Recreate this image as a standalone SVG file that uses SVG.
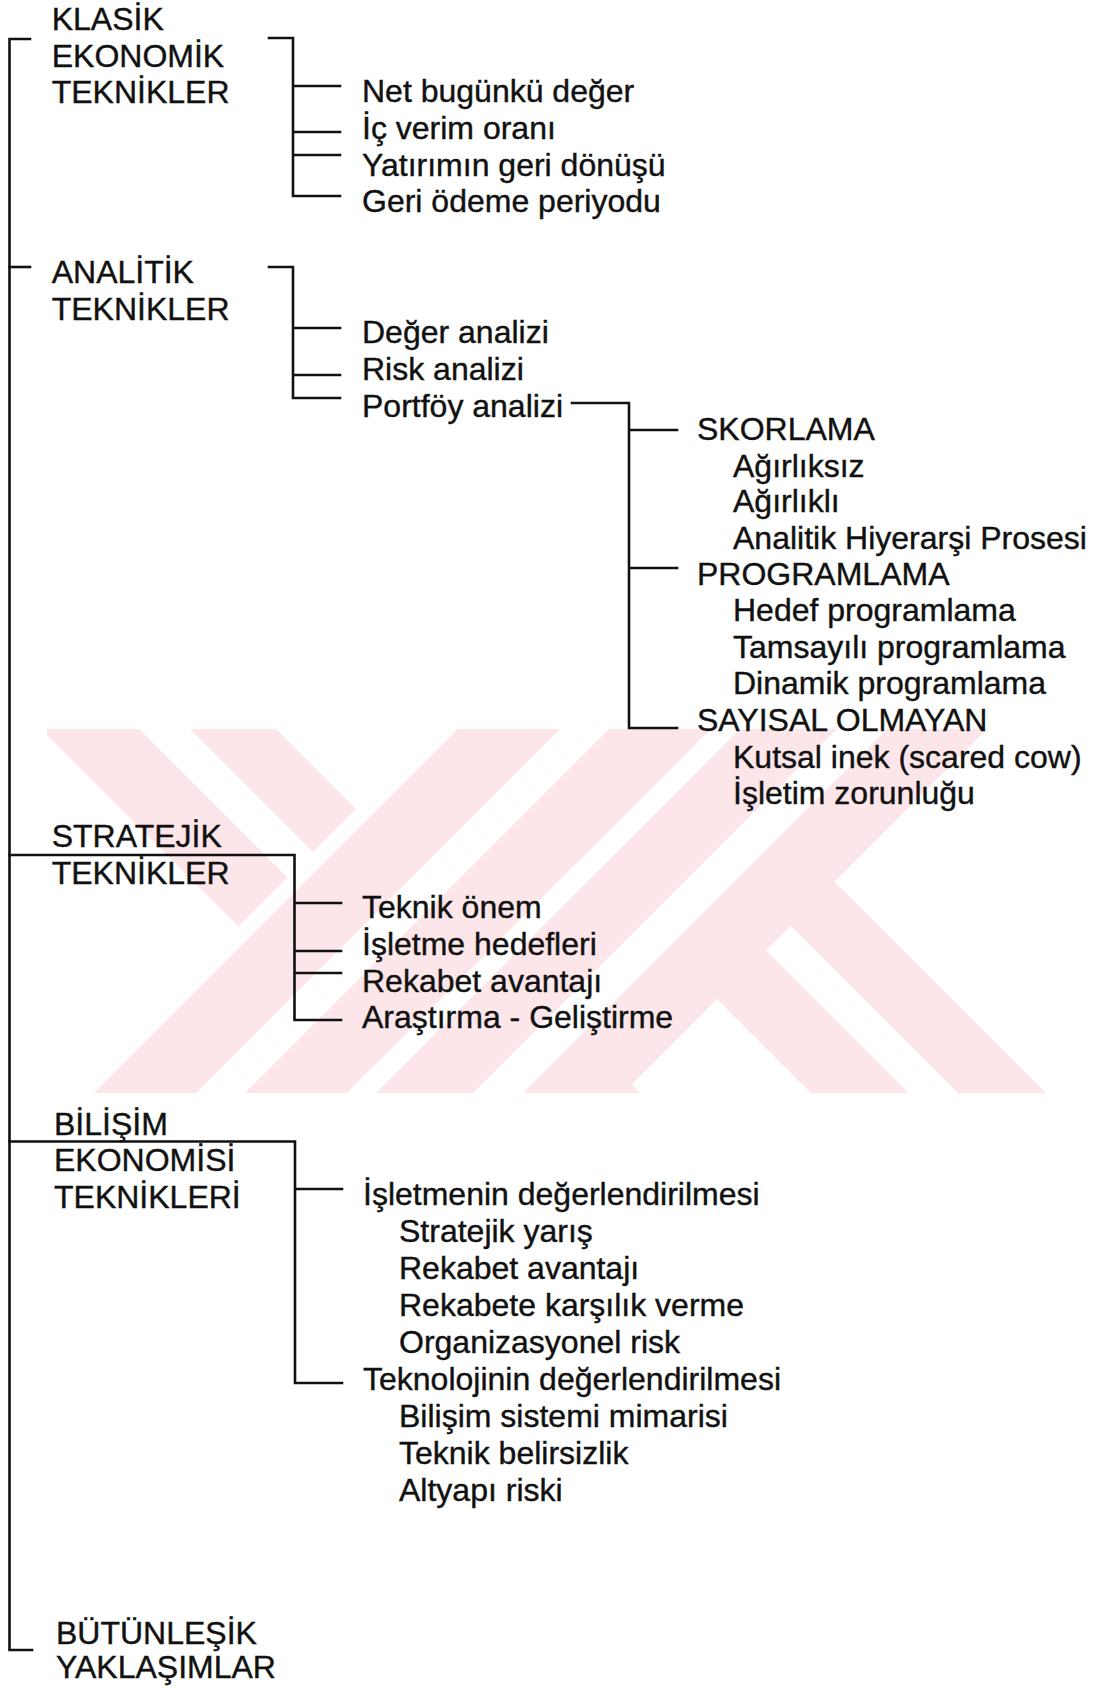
<svg xmlns="http://www.w3.org/2000/svg" width="1098" height="1688" viewBox="0 0 1098 1688">
<defs>
<style>
text{font-family:"Liberation Sans",Arial,sans-serif;font-size:32px;fill:#111;stroke:#111;stroke-width:0.4}
.ln{stroke:#111;stroke-width:2.6;fill:none;stroke-linecap:square}
.wm{fill:#fde6ea}
.wh{fill:#ffffff}
</style>
<clipPath id="wmclip"><rect x="47" y="729" width="1003" height="364"/></clipPath>
</defs>
<rect width="1098" height="1688" fill="#ffffff"/>
<g id="watermark" clip-path="url(#wmclip)">
<polygon class="wm" points="418,700 653,700 1053,1100 818,1100"/>
<polygon class="wh" points="790.5,925.5 965,1100 915.5,1100 765.75,950.25"/>
<polygon class="wm" points="12,700 247,700 647,1100 412,1100"/>
<polygon class="wh" points="110,700 161,700 561,1100 510,1100"/>
<polygon class="wh" points="465,700 487,700 87,1100 65,1100"/>
<polygon class="wm" points="487,700 740,700 340,1100 87,1100"/>
<polygon class="wh" points="589,700 638,700 238,1100 189,1100"/>
<polygon class="wh" points="740,700 769,700 369,1100 340,1100"/>
<polygon class="wm" points="769,700 1016,700 616,1100 369,1100"/>
<polygon class="wh" points="866,700 916,700 516,1100 466,1100"/>
</g>
<g id="connectors">
<path class="ln" d="M30,39 H9.5 V1650 H32"/>
<path class="ln" d="M9.5,267 H30"/>
<path class="ln" d="M269,38 H293 V196 H340 M293,86 H340 M293,132 H340 M293,155 H340"/>
<path class="ln" d="M269,267 H293 V398 H340 M293,328 H340 M293,375 H340"/>
<path class="ln" d="M572,403 H629 V728 H677 M629,430 H677 M629,568 H677"/>
<path class="ln" d="M9.5,855 H294.5 V1020 H341 M294.5,903 H341 M294.5,951 H341 M294.5,973 H341"/>
<path class="ln" d="M9.5,1141.5 H295 V1383 H342 M295,1189 H342"/>
</g>
<g id="klasik">
<text x="51.7" y="30">KLASİK</text>
<text x="51.7" y="66.7">EKONOMİK</text>
<text x="51.7" y="103">TEKNİKLER</text>
</g>
<g id="klasik-items">
<text x="362" y="102">Net bugünkü değer</text>
<text x="362" y="139">İç verim oranı</text>
<text x="362" y="176">Yatırımın geri dönüşü</text>
<text x="362" y="212">Geri ödeme periyodu</text>
</g>
<g id="analitik">
<text x="51.7" y="283">ANALİTİK</text>
<text x="51.7" y="320">TEKNİKLER</text>
</g>
<g id="analitik-items">
<text x="362" y="343">Değer analizi</text>
<text x="362" y="380">Risk analizi</text>
<text x="362" y="417">Portföy analizi</text>
</g>
<g id="portfoy-items">
<text x="697" y="440">SKORLAMA</text>
<text x="733" y="477">Ağırlıksız</text>
<text x="733" y="512">Ağırlıklı</text>
<text x="733" y="549">Analitik Hiyerarşi Prosesi</text>
<text x="697" y="585">PROGRAMLAMA</text>
<text x="733" y="621">Hedef programlama</text>
<text x="733" y="658">Tamsayılı programlama</text>
<text x="733" y="694">Dinamik programlama</text>
<text x="697" y="731">SAYISAL OLMAYAN</text>
<text x="733" y="768">Kutsal inek (scared cow)</text>
<text x="733" y="804">İşletim zorunluğu</text>
</g>
<g id="stratejik">
<text x="51.7" y="847">STRATEJİK</text>
<text x="51.7" y="884">TEKNİKLER</text>
</g>
<g id="stratejik-items">
<text x="362" y="918">Teknik önem</text>
<text x="362" y="955">İşletme hedefleri</text>
<text x="362" y="992">Rekabet avantajı</text>
<text x="362" y="1028">Araştırma - Geliştirme</text>
</g>
<g id="bilisim">
<text x="54" y="1135">BİLİŞİM</text>
<text x="54" y="1171">EKONOMİSİ</text>
<text x="54" y="1208">TEKNİKLERİ</text>
</g>
<g id="bilisim-items">
<text x="363" y="1205">İşletmenin değerlendirilmesi</text>
<text x="399" y="1242">Stratejik yarış</text>
<text x="399" y="1279">Rekabet avantajı</text>
<text x="399" y="1316">Rekabete karşılık verme</text>
<text x="399" y="1353">Organizasyonel risk</text>
<text x="363" y="1390">Teknolojinin değerlendirilmesi</text>
<text x="399" y="1427">Bilişim sistemi mimarisi</text>
<text x="399" y="1464">Teknik belirsizlik</text>
<text x="399" y="1501">Altyapı riski</text>
</g>
<g id="butunlesik">
<text x="56" y="1644">BÜTÜNLEŞİK</text>
<text x="56" y="1678">YAKLAŞIMLAR</text>
</g>
</svg>
